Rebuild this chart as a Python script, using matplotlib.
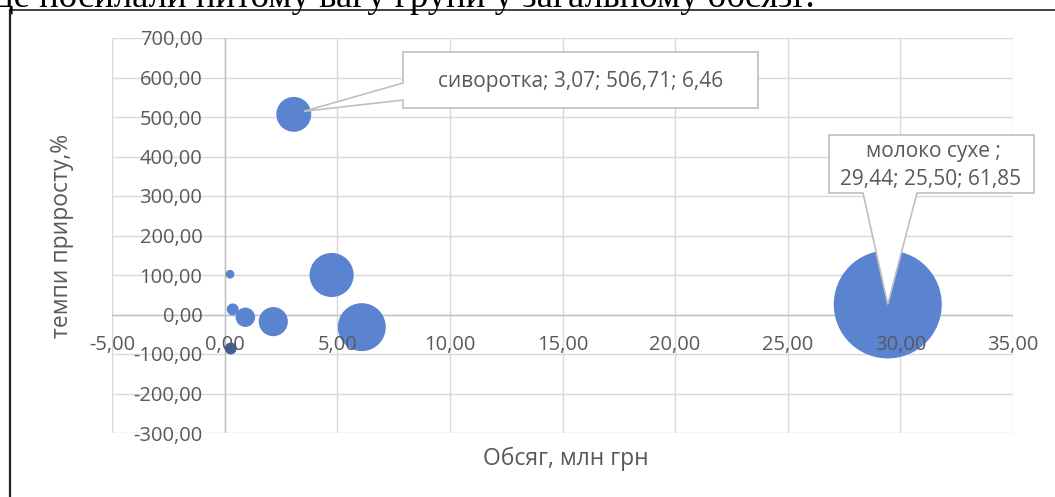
import matplotlib
matplotlib.use("Agg")
import matplotlib.pyplot as plt
from matplotlib.lines import Line2D
from matplotlib.patches import Polygon
from matplotlib.ticker import FuncFormatter, MultipleLocator
import numpy as np

plt.rcParams['font.family'] = ['Open Sans', 'DejaVu Sans']

# обсяг, темпи приросту, частка (розмір бульбашки)
obsyag = [29.44, 3.07, 4.75, 6.09, 2.16, 0.92, 0.36, 0.24, 0.27]
tempy = [25.50, 506.71, 100.0, -32.0, -18.0, -7.0, 13.0, 102.0, -86.0]
chastka = [61.85, 6.46, 10.3, 12.2, 4.5, 2.0, 0.75, 0.4, 0.75]
pidpysy = ["молоко сухе ", "сиворотка"]

x_ticks = [-5, 0, 5, 10, 15, 20, 25, 30, 35]
y_ticks = [-300, -200, -100, 0, 100, 200, 300, 400, 500, 600, 700]

W, H = 1055, 497
GREY = '#595959'
BLUE = '#5a84d0'


def fmt(v):
    return f"{v:.2f}".replace('.', ',')


def fx(px):
    return px / W


def fy(py):
    return 1 - py / H


fig = plt.figure(figsize=(W / 100, H / 100), dpi=100)
ax = fig.add_axes([fx(112), fy(433), (1013 - 112) / W, (433 - 38) / H])
ax.set_xlim(x_ticks[0], x_ticks[-1])
ax.set_ylim(y_ticks[0], y_ticks[-1])

# сітка та осі під бульбашками
for xv in x_ticks:
    ax.axvline(xv, color='#d9d9d9', lw=1.0, zorder=0)
for yv in y_ticks:
    ax.axhline(yv, color='#d9d9d9', lw=1.0, zorder=0)
ax.axvline(0, color='#bfbfbf', lw=1.0, zorder=0.5)
ax.axhline(0, color='#bfbfbf', lw=1.0, zorder=0.5)

for side in ['top', 'right']:
    ax.spines[side].set_visible(False)
ax.spines['left'].set_position(('data', 0))
ax.spines['bottom'].set_position(('data', 0))
ax.spines['left'].set_color('none')
ax.spines['bottom'].set_color('none')

ax.xaxis.set_major_locator(MultipleLocator(5))
ax.yaxis.set_major_locator(MultipleLocator(100))
ax.xaxis.set_major_formatter(FuncFormatter(lambda v, p: fmt(v)))
ax.yaxis.set_major_formatter(FuncFormatter(lambda v, p: fmt(v)))
ax.tick_params(length=0, labelsize=14.5, labelcolor=GREY)
ax.tick_params(axis='y', pad=16)
ax.tick_params(axis='x', pad=15)

s_max = (2 * 54 * 0.72) ** 2
sizes = np.array(chastka) / max(chastka) * s_max
colors = [BLUE] * len(obsyag)
colors[-1] = '#3f5f9e'
ax.scatter(obsyag, tempy, s=sizes, c=colors, linewidths=0, zorder=1)


def to_px(x, y):
    dx, dy = ax.transData.transform((x, y))
    return dx, H - dy


def callout(pts):
    poly = Polygon([(fx(a), fy(b)) for a, b in pts], closed=True,
                   transform=fig.transFigure, facecolor='white',
                   edgecolor='#bfbfbf', lw=1.2, zorder=5)
    fig.add_artist(poly)


# виноска для сироватки
tx, ty = to_px(obsyag[1], tempy[1])
callout([(403, 52), (758, 52), (758, 108), (403, 108), (403, 100),
         (tx + 10, ty - 3), (403, 83)])
fig.text(fx(581), fy(81), f"{pidpysy[1]}; {fmt(obsyag[1])}; {fmt(tempy[1])}; {fmt(chastka[1])}",
         ha='center', va='center', fontsize=15, color=GREY, zorder=6)

# виноска для молока сухого
tx, ty = to_px(obsyag[0], tempy[0])
callout([(829, 135), (1034, 135), (1034, 193), (917, 193),
         (tx, ty), (863, 193), (829, 193)])
fig.text(fx(933), fy(152), f"{pidpysy[0]};", ha='center', va='center',
         fontsize=15, color=GREY, zorder=6)
fig.text(fx(931), fy(180), f"{fmt(obsyag[0])}; {fmt(tempy[0])}; {fmt(chastka[0])}",
         ha='center', va='center', fontsize=15, color=GREY, zorder=6)

fig.text(fx(62), fy(236), "темпи приросту,%", rotation=90, ha='center', va='center',
         fontsize=16.5, color=GREY)
fig.text(fx(566), fy(459), "Обсяг, млн грн", ha='center', va='center',
         fontsize=16.5, color=GREY)

# рядок тексту документа над діаграмою та рамка
fig.text(fx(-6), fy(7), "це посилали питому вагу групи у загальному обсязі?",
         ha='left', va='baseline', fontsize=26.5, family='Liberation Serif', color='black')
fig.add_artist(Line2D([fx(10), 1], [fy(9.5), fy(9.5)], color='#222222', lw=1.2))
fig.add_artist(Line2D([fx(10), fx(10)], [fy(9.5), 0], color='#222222', lw=1.6))

fig.savefig("out.png", dpi=100)
